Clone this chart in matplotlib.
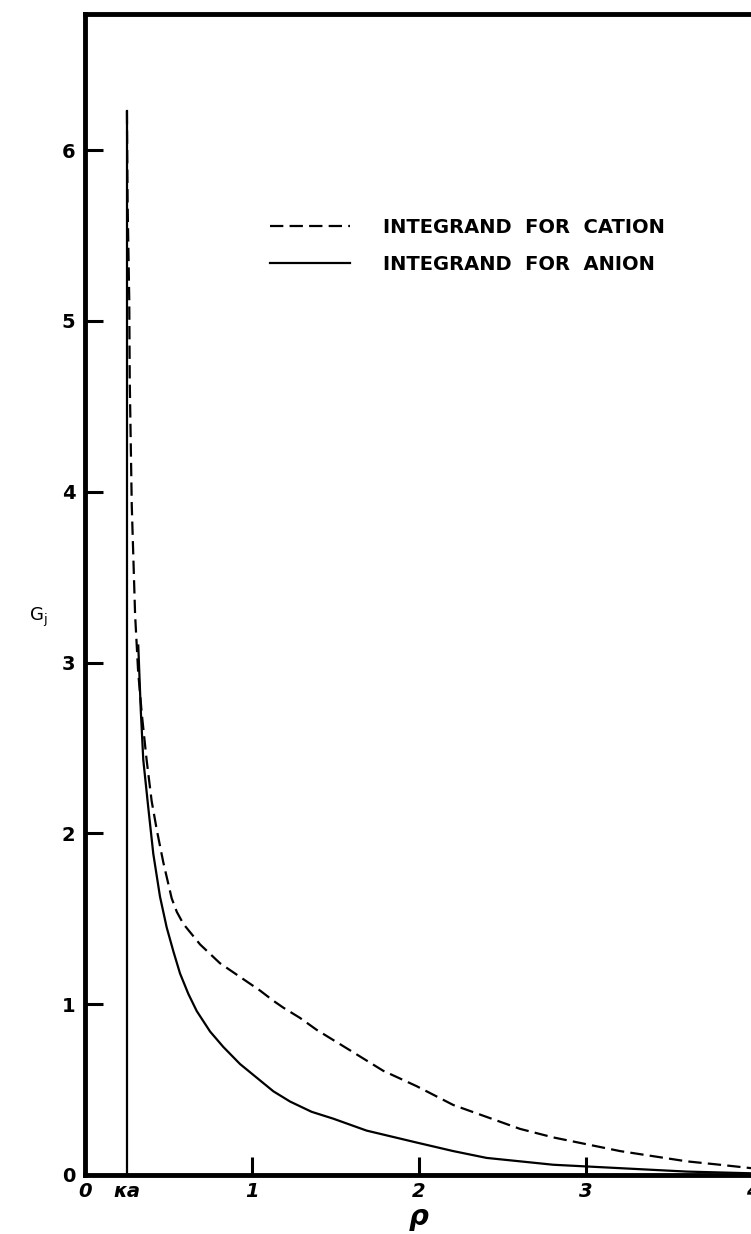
import numpy as np
import matplotlib
matplotlib.use("Agg")
import matplotlib.pyplot as plt

# values
kappa_a = 0.25
vline_top = 6.23

rho_cation = [0.251, 0.255, 0.265, 0.268, 0.280, 0.300, 0.318, 0.340, 0.369, 0.399,
              0.430, 0.469, 0.519, 0.550, 0.589, 0.689, 0.808, 0.928, 0.988, 1.048,
              1.128, 1.187, 1.287, 1.387, 1.487, 1.587, 1.786, 1.986, 2.205, 2.405,
              2.605, 2.804, 3.004, 3.204, 3.403, 3.603, 3.802, 3.990, 4.300]
g_cation = [6.23, 5.70, 5.12, 4.65, 3.92, 3.28, 2.95, 2.70, 2.43, 2.19,
            2.02, 1.83, 1.62, 1.54, 1.47, 1.35, 1.24, 1.16, 1.12, 1.08,
            1.02, 0.98, 0.92, 0.85, 0.79, 0.73, 0.61, 0.52, 0.41, 0.34,
            0.27, 0.22, 0.18, 0.14, 0.11, 0.08, 0.06, 0.04, 0.02]

rho_anion = [0.319, 0.334, 0.349, 0.379, 0.409, 0.449, 0.489, 0.529, 0.569, 0.619,
             0.669, 0.749, 0.828, 0.928, 1.028, 1.128, 1.228, 1.357, 1.486, 1.686,
             1.986, 2.205, 2.405, 2.605, 2.804, 3.004, 3.204, 3.403, 3.603, 3.990,
             4.300]
g_anion = [3.10, 2.72, 2.43, 2.15, 1.88, 1.63, 1.45, 1.31, 1.18, 1.06,
           0.96, 0.84, 0.75, 0.65, 0.57, 0.49, 0.43, 0.37, 0.33, 0.26,
           0.19, 0.14, 0.10, 0.08, 0.06, 0.05, 0.04, 0.03, 0.02, 0.01,
           0.005]

x_ticks = [0, kappa_a, 1, 2, 3, 4]
x_ticklabels = ["0", "κa", "1", "2", "3", "4"]
y_ticks = [0, 1, 2, 3, 4, 5, 6]

W, H = 751, 1234
fig = plt.figure(figsize=(W / 100, H / 100), dpi=100)
ax = fig.add_axes([85 / W, (H - 1175) / H, 4.5 * 167 / W, (1175 - 14) / H])

ax.plot(rho_cation, g_cation, color="black", lw=1.6, ls=(0, (6, 2.8)),
        label="INTEGRAND  FOR  CATION")
ax.plot(rho_anion, g_anion, color="black", lw=1.6, label="INTEGRAND  FOR  ANION")
ax.plot([kappa_a, kappa_a], [0, vline_top], color="black", lw=1.6)

ax.set_xlim(0, 4.5)
ax.set_ylim(0, (1175 - 14) / 170.8)

for side in ["left", "bottom", "top"]:
    ax.spines[side].set_linewidth(3.5)
ax.spines["right"].set_visible(False)

ax.set_xticks(x_ticks)
ax.set_xticklabels(x_ticklabels, fontsize=14, fontweight="bold", fontstyle="italic")
ax.set_yticks(y_ticks)
ax.set_yticklabels([str(v) for v in y_ticks], fontsize=14, fontweight="bold")
ax.tick_params(axis="x", direction="in", length=13, width=2.2, pad=5)
ax.tick_params(axis="y", direction="in", length=13, width=2.2, pad=7)
# no tick marks at the origin and at kappa*a
for t in ax.xaxis.get_major_ticks()[:2]:
    t.tick1line.set_visible(False)
ax.yaxis.get_major_ticks()[0].tick1line.set_visible(False)

ax.set_xlabel("ρ", fontsize=20, fontweight="bold", fontstyle="italic")
ax.xaxis.set_label_coords(419 / W, 1 - 1203 / H, transform=fig.transFigure)
ax.set_ylabel(r"G$_{\mathregular{j}}$", fontsize=13, rotation=0, va="center", ha="center")
ax.yaxis.set_label_coords(38 / W, 1 - 617 / H, transform=fig.transFigure)

leg = ax.legend(loc="upper left", bbox_to_anchor=(270 / W, 1 - 218 / H),
                bbox_transform=fig.transFigure, frameon=False, borderpad=0,
                borderaxespad=0, handlelength=4.1, handletextpad=1.7,
                labelspacing=0.9, prop={"size": 14, "weight": "bold"})

fig.savefig("out.png", dpi=100)
